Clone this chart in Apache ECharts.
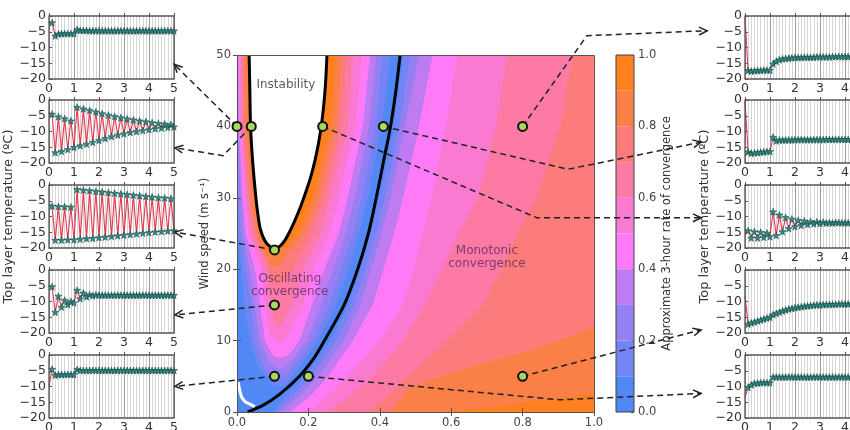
<!DOCTYPE html>
<html lang="en">
<head>
  <meta charset="UTF-8">
  <script src="https://cdn.jsdelivr.net/npm/echarts@6.0.0/dist/echarts.min.js"></script>
</head>
<body style="margin:0;background:#fff">
  <div id="chart" style="width:850px;height:430px;"></div>
  <script type="text/javascript">

    // ---------- data ----------
    // contour band colours, 0.0-0.1 ... 0.9-1.0
    var levelColors = ['#5088f6', '#7384f4', '#9580f3', '#bf7cf2', '#ff7af7', '#fa7ad2', '#fd7aa4', '#fc7c7c', '#fa8048', '#ff801f'];
    var colorbarBands = [0.1, 0.1, 0.1, 0.1, 0.1, 0.1, 0.1, 0.1, 0.1, 0.1];

    // contours (rate >= 0.1 ... 0.9) on the monotonic side, bottom to top
    var monoContours = [
      [[0.10, 0], [0.142, 2.5], [0.19, 5], [0.262, 10], [0.312, 15], [0.345, 20], [0.375, 25], [0.40, 30], [0.44, 40], [0.465, 50]],
      [[0.11, 0], [0.16, 2.5], [0.207, 5], [0.28, 10], [0.327, 15], [0.36, 20], [0.39, 25], [0.415, 30], [0.455, 40], [0.485, 50]],
      [[0.125, 0], [0.18, 2.5], [0.228, 5], [0.30, 10], [0.345, 15], [0.375, 20], [0.405, 25], [0.43, 30], [0.47, 40], [0.51, 50]],
      [[0.15, 0], [0.21, 2.5], [0.255, 5], [0.325, 10], [0.38, 15], [0.41, 20], [0.44, 25], [0.465, 30], [0.51, 40], [0.548, 50]],
      [[0.20, 0], [0.26, 2.5], [0.31, 5], [0.40, 10], [0.465, 15], [0.495, 20], [0.52, 25], [0.545, 30], [0.585, 40], [0.617, 50]],
      [[0.255, 0], [0.32, 2.5], [0.38, 5], [0.465, 10], [0.525, 15], [0.575, 20], [0.62, 25], [0.675, 30], [0.725, 40], [0.756, 50]],
      [[0.367, 0], [0.43, 2.5], [0.48, 5], [0.59, 10], [0.69, 15], [0.74, 20], [0.785, 25], [0.84, 30], [0.905, 40], [0.94, 50]],
      [[0.43, 0], [0.485, 3.5], [0.6, 5.5], [0.7, 7], [0.8, 8.3], [0.9, 10], [1.0, 12]],
      [[0.58, 0], [0.7, 0.6], [0.8, 1.3], [0.9, 2], [1.0, 2.6]]
    ];

    // contours (rate >= 0.1 ... 0.9) on the oscillating side, left end to top
    var oscContours = [
      [[0, 27], [0.003, 25], [0.013, 20], [0.02, 15], [0.036, 10], [0.06, 6.3], [0.08, 5], [0.1, 3.8], [0.118, 3.5], [0.138, 3.9], [0.158, 5], [0.228, 10], [0.278, 15], [0.312, 20], [0.343, 25], [0.367, 30], [0.405, 40], [0.43, 50]],
      [[0, 33], [0.004, 30], [0.01, 25], [0.025, 20], [0.04, 15], [0.05, 10], [0.075, 6.2], [0.095, 5], [0.118, 4.7], [0.138, 5], [0.212, 10], [0.258, 15], [0.292, 20], [0.325, 25], [0.35, 30], [0.388, 40], [0.408, 50]],
      [[0, 46], [0.002, 40], [0.01, 30], [0.018, 25], [0.035, 20], [0.05, 15], [0.064, 10], [0.09, 7], [0.118, 6], [0.15, 7], [0.195, 10], [0.235, 15], [0.27, 20], [0.305, 25], [0.33, 30], [0.37, 40], [0.39, 50]],
      [[0.003, 50], [0.006, 40], [0.016, 30], [0.025, 25], [0.05, 20], [0.065, 15], [0.078, 10], [0.1, 8], [0.12, 7.5], [0.145, 8], [0.175, 10], [0.21, 15], [0.245, 20], [0.285, 25], [0.31, 30], [0.352, 40], [0.373, 50]],
      [[0.008, 50], [0.01, 40], [0.022, 30], [0.032, 25], [0.068, 20], [0.08, 15], [0.09, 11], [0.115, 9.5], [0.14, 10.5], [0.155, 12], [0.185, 15], [0.215, 20], [0.26, 25], [0.285, 30], [0.332, 40], [0.35, 50]],
      [[0.012, 50], [0.014, 40], [0.028, 30], [0.04, 25], [0.08, 20], [0.095, 15], [0.105, 12.2], [0.115, 11.8], [0.13, 12.5], [0.152, 15], [0.185, 20], [0.235, 25], [0.262, 30], [0.31, 40], [0.325, 50]],
      [[0.016, 50], [0.019, 40], [0.034, 30], [0.048, 25], [0.09, 20], [0.1, 18], [0.11, 17.5], [0.125, 18], [0.155, 20], [0.21, 25], [0.245, 30], [0.292, 40], [0.306, 50]],
      [[0.021, 50], [0.024, 40], [0.04, 30], [0.055, 25], [0.075, 22.5], [0.095, 20.6], [0.107, 20.3], [0.12, 20.6], [0.14, 22], [0.19, 25], [0.23, 30], [0.278, 40], [0.294, 50]],
      [[0.027, 50], [0.03, 40], [0.046, 30], [0.062, 25], [0.08, 23], [0.095, 22], [0.106, 21.7], [0.118, 22], [0.135, 23], [0.17, 25], [0.215, 30], [0.262, 40], [0.278, 50]]
    ];

    // black boundaries
    var instabilityEdge = [[0.034, 50], [0.036, 45], [0.038, 40], [0.044, 35], [0.053, 30], [0.059, 27.5], [0.066, 25.5], [0.078, 24], [0.092, 23.2], [0.106, 22.9],
      [0.122, 23.3], [0.135, 24.1], [0.148, 25.3], [0.162, 26.8], [0.177, 28.6], [0.192, 30.7], [0.207, 33], [0.221, 35.8], [0.233, 39], [0.242, 42.5], [0.248, 46], [0.252, 50]];
    var regimeEdge = [[0.03, 0], [0.075, 1], [0.12, 2.5], [0.175, 5], [0.215, 7.5], [0.245, 10], [0.30, 15], [0.338, 20], [0.368, 25], [0.39, 30], [0.41, 35], [0.43, 40], [0.445, 45], [0.457, 50]];
    var whiteEdge = [[0.003, 4.2], [0.008, 3], [0.013, 2.1], [0.022, 1.5], [0.032, 1.2], [0.05, 0.75]];

    var samplePoints = [[0, 40], [0.04, 40], [0.24, 40], [0.41, 40], [0.8, 40], [0.105, 22.7], [0.105, 15], [0.105, 5], [0.2, 5], [0.8, 5]];

    var regionLabels = [
      { name: 'Instability', value: [0.137, 45.8], color: '#333' },
      { name: 'Oscillating\nconvergence', value: [0.148, 17.7], color: '#5c2a62' },
      { name: 'Monotonic\nconvergence', value: [0.70, 21.7], color: '#5c2a62' }
    ];

    // dashed leader lines, in the main plot's coordinates (last point = arrow tip)
    var arrowPaths = [
      [[0, 40], [-0.176, 48.7]],
      [[0.04, 40], [-0.039, 35.9], [-0.174, 37.0]],
      [[0.105, 22.7], [-0.174, 25.2]],
      [[0.105, 15], [-0.174, 13.6]],
      [[0.105, 5], [-0.174, 3.6]],
      [[0.8, 40], [0.98, 52.7], [1.317, 53.4]],
      [[0.41, 40], [0.927, 34.0], [1.30, 37.8]],
      [[0.24, 40], [0.84, 27.2], [1.30, 27.2]],
      [[0.8, 5], [1.30, 11.5]],
      [[0.2, 5], [0.905, 1.7], [1.30, 2.6]]
    ];

    // time series, hours
    var hours = [0, 0.125, 0.25, 0.375, 0.5, 0.625, 0.75, 0.875, 1, 1.125, 1.25, 1.375, 1.5, 1.625, 1.75, 1.875, 2, 2.125, 2.25, 2.375, 2.5,
      2.625, 2.75, 2.875, 3, 3.125, 3.25, 3.375, 3.5, 3.625, 3.75, 3.875, 4, 4.125, 4.25, 4.375, 4.5, 4.625, 4.75, 4.875, 5];

    var leftTemps = [
      [-2.2, -2.1, -6.3, -5.7, -5.6, -5.6, -5.6, -5.6, -5.6, -4.3, -4.6, -4.6, -4.6, -4.7, -4.7, -4.7, -4.7, -4.7, -4.7, -4.7, -4.7,
        -4.7, -4.7, -4.7, -4.7, -4.7, -4.7, -4.7, -4.7, -4.7, -4.7, -4.7, -4.7, -4.7, -4.7, -4.7, -4.7, -4.7, -4.7, -4.7, -4.7],
      [-4.0, -4.5, -16.7, -5.3, -16.3, -5.9, -15.7, -6.6, -15.0, -2.3, -14.5, -2.8, -14.0, -3.3, -13.4, -3.8, -12.8, -4.3, -12.2, -4.8, -11.6,
        -5.2, -11.1, -5.6, -10.7, -6.0, -10.3, -6.3, -10.0, -6.6, -9.7, -6.9, -9.4, -7.2, -9.1, -7.4, -8.9, -7.6, -8.7, -7.8, -8.5],
      [-6.0, -6.7, -17.5, -6.8, -17.5, -6.9, -17.4, -7.0, -17.4, -1.4, -17.2, -1.6, -17.0, -1.8, -16.9, -2.0, -16.7, -2.2, -16.5, -2.4, -16.3,
        -2.6, -16.1, -2.8, -15.9, -3.0, -15.7, -3.2, -15.5, -3.4, -15.3, -3.6, -15.1, -3.8, -14.9, -4.0, -14.8, -4.1, -14.6, -4.3, -14.5],
      [-5.0, -5.3, -13.4, -8.3, -11.8, -9.6, -11.0, -10.0, -10.4, -6.4, -9.1, -7.3, -8.5, -7.8, -8.2, -7.9, -8.0, -8.0, -8.0, -8.0, -8.0,
        -8.0, -8.0, -8.0, -8.0, -8.0, -8.0, -8.0, -8.0, -8.0, -8.0, -8.0, -8.0, -8.0, -8.0, -8.0, -8.0, -8.0, -8.0, -8.0, -8.0],
      [-10.0, -4.5, -6.4, -6.2, -6.2, -6.2, -6.2, -6.2, -6.2, -4.6, -4.9, -4.9, -4.9, -4.9, -4.9, -4.9, -4.9, -4.9, -4.9, -4.9, -4.9,
        -4.9, -4.9, -4.9, -4.9, -4.9, -4.9, -4.9, -4.9, -4.9, -4.9, -4.9, -4.9, -4.9, -4.9, -4.9, -4.9, -4.9, -4.9, -4.9, -4.9]
    ];

    var rightTemps = [
      [-0.5, -17.3, -17.5, -17.4, -17.3, -17.3, -17.2, -17.2, -17.2, -15.2, -14.4, -13.9, -13.6, -13.5, -13.4, -13.3, -13.2, -13.2, -13.2, -13.1, -13.1,
        -13.1, -13.1, -13.0, -13.0, -13.0, -13.0, -13.0, -12.9, -12.9, -12.9, -12.9, -12.9, -12.9, -12.9, -12.9, -12.9, -12.9, -12.9, -12.9, -12.9],
      [-0.5, -16.5, -16.9, -16.8, -16.7, -16.6, -16.5, -16.4, -16.3, -11.8, -13.0, -12.7, -12.7, -12.7, -12.7, -12.7, -12.6, -12.6, -12.6, -12.6, -12.6,
        -12.6, -12.6, -12.6, -12.6, -12.6, -12.5, -12.5, -12.5, -12.5, -12.5, -12.5, -12.5, -12.5, -12.5, -12.5, -12.5, -12.5, -12.5, -12.5, -12.5],
      [-15.5, -14.5, -16.8, -14.8, -16.8, -15.0, -16.6, -15.2, -16.4, -8.5, -16.0, -9.5, -14.8, -10.3, -13.8, -10.8, -13.2, -11.2, -12.8, -11.4, -12.5,
        -11.6, -12.3, -11.7, -12.2, -11.8, -12.1, -11.9, -12.1, -11.9, -12.0, -12.0, -12.0, -12.0, -12.0, -12.0, -12.0, -12.0, -12.0, -12.0, -12.0],
      [-8.0, -17.2, -16.8, -16.5, -16.2, -15.9, -15.6, -15.3, -15.0, -14.2, -13.8, -13.4, -13.0, -12.7, -12.4, -12.2, -12.0, -11.8, -11.7, -11.5, -11.4,
        -11.3, -11.2, -11.1, -11.1, -11.0, -11.0, -10.9, -10.9, -10.9, -10.8, -10.8, -10.8, -10.8, -10.7, -10.7, -10.7, -10.7, -10.7, -10.7, -10.7],
      [-13.5, -10.3, -9.5, -9.0, -8.9, -8.8, -8.8, -8.8, -8.8, -7.0, -7.0, -7.0, -7.0, -7.0, -7.0, -7.0, -7.0, -7.0, -7.0, -7.0, -7.0,
        -7.0, -7.0, -7.0, -7.0, -7.0, -7.0, -7.0, -7.0, -7.0, -7.0, -7.0, -7.0, -7.0, -7.0, -7.0, -7.0, -7.0, -7.0, -7.0, -7.0]
    ];

    // ---------- layout ----------
    var FONT = 'DejaVu Sans';
    var panelTops = [16, 100, 185, 270, 355];
    var panelHeight = 63;
    var starPath = 'path://M0,-10L2.35,-3.24L9.51,-3.09L3.8,1.24L5.88,8.09L0,4L-5.88,8.09L-3.8,1.24L-9.51,-3.09L-2.35,-3.24Z';

    function minusFmt(v) {
        return v < 0 ? '\u2212' + (-v) : String(v);
    }

    function closeMono(pts) {
        var last = pts[pts.length - 1];
        return last[1] === 50 ? pts.concat([[1, 50], [1, 0]]) : pts.concat([[1, 0]]);
    }

    function closeOsc(pts) {
        return pts[0][0] === 0 ? pts.concat([[0, 50]]) : pts;
    }

    // fills painted bottom-up
    var fills = [{ pts: [[0, 0], [1, 0], [1, 50], [0, 50]], color: levelColors[0] }];
    for (var k = 0; k < 9; k++) {
        fills.push({ pts: closeMono(monoContours[k]), color: levelColors[k + 1] });
        fills.push({ pts: closeOsc(oscContours[k]), color: levelColors[k + 1] });
    }
    fills.push({ pts: instabilityEdge, color: '#ffffff' });

    var axisLabelStyle = { fontFamily: FONT, fontSize: 11.5, color: '#444' };

    var grids = [
        { left: 237, top: 55, width: 357, height: 357, show: false, outerBoundsMode: 'none' },
        { left: 616, top: 55, width: 18, height: 357, show: true, borderColor: '#444', borderWidth: 1, backgroundColor: 'transparent', z: 10, outerBoundsMode: 'none' }
    ];
    var xAxes = [
        { gridIndex: 0, type: 'value', min: 0, max: 1, interval: 0.2, z: 10,
          axisLine: { show: false }, axisTick: { inside: true, length: 4, lineStyle: { color: '#555' } },
          axisLabel: Object.assign({ formatter: function (v) { return v.toFixed(1); }, margin: 5 }, axisLabelStyle),
          splitLine: { show: false } },
        { gridIndex: 0, type: 'value', position: 'top', min: 0, max: 1, interval: 0.2, z: 10,
          axisLine: { show: false }, axisTick: { inside: true, length: 4, lineStyle: { color: '#555' } },
          axisLabel: { show: false }, splitLine: { show: false } },
        { gridIndex: 1, type: 'category', data: ['bar'], show: false }
    ];
    var yAxes = [
        { gridIndex: 0, type: 'value', min: 0, max: 50, interval: 10, z: 10,
          name: 'Wind speed (m s\u207B\u00B9)', nameLocation: 'middle', nameGap: 26, nameRotate: 90,
          nameTextStyle: { fontFamily: FONT, fontSize: 11.5, color: '#333' },
          axisLine: { show: false }, axisTick: { show: true, inside: true, length: 4, lineStyle: { color: '#555' } },
          axisLabel: Object.assign({ margin: 6 }, axisLabelStyle), splitLine: { show: false } },
        { gridIndex: 0, type: 'value', position: 'right', min: 0, max: 50, interval: 10, z: 10,
          axisLine: { show: false }, axisTick: { show: true, inside: true, length: 4, lineStyle: { color: '#555' } },
          axisLabel: { show: false }, splitLine: { show: false } },
        { gridIndex: 1, type: 'value', position: 'right', min: 0, max: 1, interval: 0.2,
          name: 'Approximate 3-hour rate of convergence', nameLocation: 'middle', nameGap: 27, nameRotate: 90,
          nameTextStyle: { fontFamily: FONT, fontSize: 11.5, color: '#333' },
          axisLine: { show: false }, axisTick: { show: true, inside: true, length: 3, lineStyle: { color: '#444' } },
          axisLabel: Object.assign({ formatter: function (v) { return v.toFixed(1); }, margin: 4 }, axisLabelStyle),
          splitLine: { show: false } }
    ];

    var series = [];

    // colour bar
    colorbarBands.forEach(function (h, i) {
        series.push({ type: 'bar', xAxisIndex: 2, yAxisIndex: 2, stack: 'cb', data: [h], barWidth: '100%',
            itemStyle: { color: levelColors[i] }, silent: true, animation: false });
    });

    // filled contours, then the plot frame on top
    series.push({
        type: 'custom', xAxisIndex: 0, yAxisIndex: 0, z: 1, silent: true,
        data: fills.map(function (f) { return f.pts[0]; }),
        renderItem: function (params, api) {
            var f = fills[params.dataIndex];
            return { type: 'polygon', shape: { points: f.pts.map(function (p) { return api.coord(p); }) },
                style: { fill: f.color } };
        }
    });
    series.push({
        type: 'custom', xAxisIndex: 0, yAxisIndex: 0, z: 11, silent: true, clip: false,
        data: [[0, 0]],
        renderItem: function (params, api) {
            var a = api.coord([0, 0]), b = api.coord([1, 50]);
            return { type: 'rect', shape: { x: Math.round(a[0]) + 0.5, y: Math.round(b[1]) + 0.5,
                width: Math.round(b[0] - a[0]), height: Math.round(a[1] - b[1]) },
                style: { fill: null, stroke: '#555', lineWidth: 1 } };
        }
    });

    series.push({ type: 'line', xAxisIndex: 0, yAxisIndex: 0, z: 3, data: whiteEdge, showSymbol: false, smooth: 0.3,
        lineStyle: { color: '#ffffff', width: 3 }, silent: true });
    series.push({ type: 'line', xAxisIndex: 0, yAxisIndex: 0, z: 3, data: instabilityEdge, showSymbol: false, smooth: 0.3,
        lineStyle: { color: '#000', width: 3 }, silent: true });
    series.push({ type: 'line', xAxisIndex: 0, yAxisIndex: 0, z: 3, data: regimeEdge, showSymbol: false, smooth: 0.3,
        lineStyle: { color: '#000', width: 3 }, silent: true });

    // leader arrows
    series.push({
        type: 'custom', xAxisIndex: 0, yAxisIndex: 0, z: 12, clip: false, silent: true,
        data: arrowPaths.map(function (p) { return p[0]; }),
        renderItem: function (params, api) {
            var pts = arrowPaths[params.dataIndex].map(function (p) { return api.coord(p); });
            var tip = pts[pts.length - 1], prev = pts[pts.length - 2];
            var ang = Math.atan2(tip[1] - prev[1], tip[0] - prev[0]);
            var barb = function (da) { return [tip[0] - 9 * Math.cos(ang + da), tip[1] - 9 * Math.sin(ang + da)]; };
            return { type: 'group', children: [
                { type: 'polyline', shape: { points: pts }, style: { stroke: '#222', lineWidth: 1.5, lineDash: [6, 4], fill: null } },
                { type: 'polyline', shape: { points: [barb(0.45), tip, barb(-0.45)] }, style: { stroke: '#222', lineWidth: 1.5, fill: null } }
            ] };
        }
    });

    series.push({ type: 'scatter', xAxisIndex: 0, yAxisIndex: 0, z: 13, data: samplePoints, symbolSize: 9, clip: false,
        itemStyle: { color: '#a9d85e', borderColor: '#111', borderWidth: 2, opacity: 1 }, silent: true });

    series.push({ type: 'scatter', xAxisIndex: 0, yAxisIndex: 0, z: 6, symbolSize: 0, silent: true,
        data: regionLabels.map(function (l) {
            return { name: l.name, value: l.value, label: { color: l.color } };
        }),
        label: { show: true, position: 'inside', formatter: '{b}', fontFamily: FONT, fontSize: 12, lineHeight: 13 } });

    // small time-series panels
    function addPanel(left, top, temps, showName) {
        var gi = grids.length;
        grids.push({ left: left, top: top, width: 125, height: panelHeight, show: true, borderColor: '#555', borderWidth: 1.3,
            backgroundColor: 'transparent', z: 10, outerBoundsMode: 'none' });
        xAxes.push({ gridIndex: gi, type: 'value', min: 0, max: 5, interval: 1,
            axisLine: { show: false }, axisTick: { inside: true, length: 3, lineStyle: { color: '#555' } },
            axisLabel: { fontFamily: FONT, fontSize: 12.5, color: '#333', margin: 3 },
            splitLine: { show: true, lineStyle: { color: '#9a9a9a', width: 1 } },
            minorTick: { show: false, splitNumber: 8 },
            minorSplitLine: { show: true, lineStyle: { color: '#d6d6d6', width: 1 } } });
        yAxes.push({ gridIndex: gi, type: 'value', min: -20, max: 0, interval: 5,
            name: showName ? 'Top layer temperature (\u00BAC)' : '', nameLocation: 'middle', nameGap: 34, nameRotate: 90,
            nameTextStyle: { fontFamily: FONT, fontSize: 13, color: '#333' },
            axisLine: { show: false }, axisTick: { show: true, inside: true, length: 3, lineStyle: { color: '#555' } },
            axisLabel: { fontFamily: FONT, fontSize: 12.5, color: '#333', margin: 3, formatter: minusFmt },
            splitLine: { show: false } });
        series.push({
            type: 'line', xAxisIndex: gi + 1, yAxisIndex: gi + 1, z: 4, silent: true,
            data: hours.map(function (t, j) {
                return j === 0 ? { value: [t, temps[j]], symbol: 'none' } : [t, temps[j]];
            }),
            symbol: starPath, symbolSize: 7, showAllSymbol: true,
            lineStyle: { color: '#e8364e', width: 1.1 },
            itemStyle: { color: '#2e8b84', borderColor: '#0f3b38', borderWidth: 0.5 }
        });
    }

    leftTemps.forEach(function (t, i) { addPanel(49, panelTops[i], t, i === 2); });
    rightTemps.forEach(function (t, i) { addPanel(745, panelTops[i], t, i === 2); });

    var chart = echarts.init(document.getElementById('chart'));
    chart.setOption({
        animation: false,
        backgroundColor: '#fff',
        textStyle: { fontFamily: FONT },
        grid: grids,
        xAxis: xAxes,
        yAxis: yAxes,
        series: series
    });
  </script>
</body>
</html>
